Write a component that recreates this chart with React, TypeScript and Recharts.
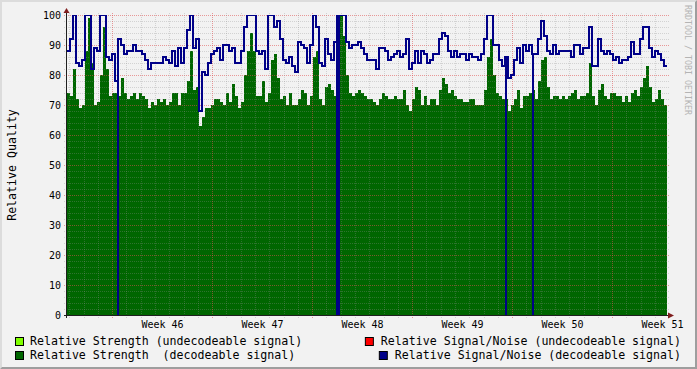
import React from 'react';
import { ComposedChart, Area, Line, XAxis, YAxis, ReferenceLine } from 'recharts';

// ---- data (one sample every 0.21 day over 6 weeks) ----
const DAYS_SPAN = 42;
const STEP_DAYS = 0.21;

const strengthDecodeable = [
  74, 73, 82, 72, 69, 70, 88, 99, 84, 70, 71, 80, 96, 82, 73, 74, 74, 73, 79, 74, 72, 73, 74, 72, 74, 73, 72, 69, 71, 70, 72, 71, 72, 70,
  71, 74, 74, 70, 74, 74, 78, 88, 75, 76, 63, 66, 69, 69, 70, 72, 72, 71, 70, 74, 71, 77, 73, 69, 71, 80, 88, 94, 88, 73, 73, 78, 71,
  74, 85, 87, 79, 72, 73, 70, 74, 70, 70, 72, 75, 74, 70, 73, 86, 88, 72, 70, 76, 77, 75, 73, 72, 100, 93, 80, 74, 73, 74, 75, 74, 73, 72,
  72, 71, 70, 72, 74, 73, 72, 72, 73, 72, 72, 75, 70, 68, 72, 76, 75, 70, 73, 70, 72, 72, 70, 75, 79, 77, 74, 75, 73, 72, 72, 71, 71,
  72, 72, 70, 70, 70, 75, 86, 92, 80, 74, 73, 72, 72, 68, 70, 72, 75, 69, 73, 73, 74, 75, 72, 78, 85, 86, 76, 72, 73, 73, 72, 73, 72,
  73, 74, 75, 72, 73, 73, 74, 84, 73, 70, 75, 77, 73, 72, 74, 74, 73, 73, 71, 73, 71, 74, 75, 73, 76, 79, 83, 76, 71, 72, 75, 72, 70,
];

const snrDecodeable = [
  88, 92, 100, 84, 83, 85, 100, 100, 82, 89, 88, 100, 100, 86, 85, 87, 78, 92, 90, 87, 88, 88, 90, 88, 88, 87, 85, 82, 84, 84, 84, 84, 86, 85,
  84, 88, 83, 89, 84, 89, 95, 100, 89, 92, 68, 81, 80, 84, 87, 88, 89, 85, 90, 90, 88, 89, 84, 84, 88, 96, 100, 100, 100, 88, 87, 88, 82,
  100, 100, 96, 98, 92, 85, 84, 86, 83, 81, 91, 90, 89, 84, 90, 100, 96, 84, 83, 92, 87, 85, 91, 100, 100, 100, 91, 89, 90, 90, 91, 89, 87, 85,
  85, 85, 82, 89, 89, 88, 85, 86, 87, 88, 86, 87, 92, 82, 84, 88, 84, 88, 87, 84, 85, 87, 87, 92, 94, 93, 88, 86, 88, 86, 87, 87, 85,
  87, 86, 86, 85, 87, 92, 100, 100, 90, 90, 85, 83, 86, 79, 80, 85, 89, 84, 90, 88, 90, 87, 87, 92, 98, 93, 88, 87, 90, 87, 88, 88, 88,
  88, 86, 90, 90, 87, 89, 89, 96, 83, 83, 92, 88, 87, 88, 87, 85, 86, 84, 85, 85, 86, 91, 87, 87, 92, 96, 96, 89, 86, 88, 87, 85, 83,
];

// short signal/noise dropouts to 0 (start day, duration in days)
const snrDropoutDays = [3.55, 18.9, 18.98, 30.7, 32.6];
const snrDropoutWidths = [0.05, 0.06, 0.06, 0.03, 0.03];

const weekLabels = ['Week 46', 'Week 47', 'Week 48', 'Week 49', 'Week 50', 'Week 51'];
const weekLabelDays = [6.69, 13.69, 20.69, 27.69, 34.69, 41.69];
const weekStartDays = [3.19, 10.19, 17.19, 24.19, 31.19, 38.19];
const dayGridDays = Array.from({ length: 42 }, (_, i) => +(0.19 + i).toFixed(2)).filter(
  (d) => !weekStartDays.some((w) => Math.abs(w - d) < 0.01)
);
const yTicks = Array.from({ length: 51 }, (_, i) => i * 2);

const legendLeft = [
  { label: 'Relative Strength (undecodeable signal)', color: '#80ff00' },
  { label: 'Relative Strength  (decodeable signal)', color: '#006600' },
];
const legendRight = [
  { label: 'Relative Signal/Noise (undecodeable signal)', color: '#ff0000' },
  { label: 'Relative Signal/Noise (decodeable signal)', color: '#000088' },
];

// ---- styling ----
const W = 697;
const H = 369;
const PLOT_LEFT = 67;
const PLOT_TOP = 15;
const PLOT_RIGHT = 667;
const PLOT_BOTTOM = 315;
const MONO = '"DejaVu Sans Mono", monospace';
const GREEN = '#006600';
const BLUE = '#000088';
const EXT_X = 0.2; // days beyond plot for grid ticks
const EXT_Y = 1; // units beyond plot

const minorStyle = { stroke: '#8f8f8f', strokeOpacity: 0.32, strokeDasharray: '1 1', shapeRendering: 'crispEdges' as const };
const majorStyle = { stroke: '#de4f4f', strokeOpacity: 0.55, strokeDasharray: '1 1', shapeRendering: 'crispEdges' as const };

const YTick = (p: any) => {
  const v = p.payload.value;
  if (v % 10 !== 0) return <g />;
  return (
    <text x={p.x - 6} y={p.y} dy={3.6} textAnchor="end" fontSize={10} fontFamily={MONO} fill="#000">
      {v}
    </text>
  );
};

const XTick = (p: any) => {
  const i = weekLabelDays.indexOf(p.payload.value);
  return (
    <text x={p.x} y={p.y + 13} textAnchor="middle" fontSize={10} fontFamily={MONO} fill="#000">
      {weekLabels[i]}
    </text>
  );
};

function buildRows() {
  const idx = (t: number) => Math.min(strengthDecodeable.length - 1, Math.floor(t / STEP_DAYS + 1e-9));
  const rows = strengthDecodeable.map((v, i) => ({
    t: +(i * STEP_DAYS).toFixed(3),
    strength: v,
    snr: snrDecodeable[i],
  }));
  snrDropoutDays.forEach((d, k) => {
    const end = d + snrDropoutWidths[k];
    rows.push({ t: d, strength: strengthDecodeable[idx(d)], snr: 0 });
    rows.push({ t: end, strength: strengthDecodeable[idx(end)], snr: snrDecodeable[idx(end)] });
  });
  const lastI = strengthDecodeable.length - 1;
  rows.push({ t: DAYS_SPAN, strength: strengthDecodeable[lastI], snr: snrDecodeable[lastI] });
  rows.sort((a, b) => a.t - b.t);
  return rows;
}

export default function App() {
  const data = buildRows();

  return (
    <div style={{ position: 'absolute', left: 0, top: 0, width: W, height: H, background: '#f2f2f2', overflow: 'hidden' }}>
      <ComposedChart
        width={W}
        height={H}
        data={data}
        margin={{ top: PLOT_TOP, right: W - PLOT_RIGHT, bottom: 0, left: 0 }}
      >
        <XAxis
          dataKey="t"
          type="number"
          domain={[0, DAYS_SPAN]}
          ticks={weekLabelDays}
          interval={0}
          tick={XTick}
          tickLine={false}
          axisLine={false}
          tickSize={0}
          tickMargin={0}
          height={H - PLOT_BOTTOM}
          allowDataOverflow
        />
        <YAxis
          type="number"
          domain={[0, 100]}
          ticks={yTicks}
          interval={0}
          tick={YTick}
          tickLine={false}
          axisLine={false}
          tickSize={0}
          tickMargin={0}
          width={PLOT_LEFT}
          allowDataOverflow
        />
        <Area
          type="stepAfter"
          dataKey="strength"
          stroke="none"
          fill={GREEN}
          fillOpacity={1}
          dot={false}
          activeDot={false}
          isAnimationActive={false}
        />
        {yTicks
          .filter((v) => v > 0)
          .map((v) => (
            <ReferenceLine
              key={'h' + v}
              segment={[
                { x: -EXT_X, y: v },
                { x: DAYS_SPAN + EXT_X, y: v },
              ]}
              ifOverflow="visible"
              {...(v % 10 === 0 ? majorStyle : minorStyle)}
            />
          ))}
        {dayGridDays.map((d) => (
          <ReferenceLine
            key={'d' + d}
            segment={[
              { x: d, y: -EXT_Y },
              { x: d, y: 100 + EXT_Y },
            ]}
            ifOverflow="visible"
            {...minorStyle}
          />
        ))}
        {weekStartDays.map((d) => (
          <ReferenceLine
            key={'w' + d}
            segment={[
              { x: d, y: -EXT_Y },
              { x: d, y: 100 + EXT_Y },
            ]}
            ifOverflow="visible"
            {...majorStyle}
          />
        ))}
        <Line
          type="stepAfter"
          dataKey="snr"
          stroke={BLUE}
          strokeWidth={1.2}
          shapeRendering="crispEdges"
          dot={false}
          activeDot={false}
          isAnimationActive={false}
        />
      </ComposedChart>
      <svg
        width={W}
        height={H}
        style={{ position: 'absolute', left: 0, top: 0, pointerEvents: 'none' }}
      >
        {/* frame shading */}
        <polygon points={`0,0 ${W},0 ${W - 2},2 2,2 2,${H - 2} 0,${H}`} fill="#dcdcdc" />
        <polygon points={`${W},0 ${W},${H} 0,${H} 2,${H - 2} ${W - 2},${H - 2} ${W - 2},2`} fill="#9e9e9e" />
        {/* axes */}
        <line x1={PLOT_LEFT - 3} x2={PLOT_RIGHT + 2} y1={PLOT_BOTTOM + 0.5} y2={PLOT_BOTTOM + 0.5} stroke="#1f1f1f" strokeWidth={1} />
        <line x1={PLOT_LEFT - 0.5} x2={PLOT_LEFT - 0.5} y1={PLOT_BOTTOM + 3} y2={PLOT_TOP - 3} stroke="#1f1f1f" strokeWidth={1} />
        <polygon
          points={`${PLOT_RIGHT + 1},${PLOT_BOTTOM - 2.5} ${PLOT_RIGHT + 1},${PLOT_BOTTOM + 3.5} ${PLOT_RIGHT + 7},${PLOT_BOTTOM + 0.5}`}
          fill="#801f1f"
        />
        <polygon
          points={`${PLOT_LEFT - 3.5},${PLOT_TOP - 2} ${PLOT_LEFT + 2.5},${PLOT_TOP - 2} ${PLOT_LEFT - 0.5},${PLOT_TOP - 7}`}
          fill="#801f1f"
        />
        {/* vertical axis title */}
        <text
          transform={`translate(16, 165) rotate(-90)`}
          textAnchor="middle"
          fontSize={11.6}
          fontFamily={MONO}
          fill="#000"
        >
          Relative Quality
        </text>
        {/* watermark */}
        <text transform={`translate(685, 5) rotate(90)`} fontSize={8.3} fontFamily={MONO} fill="#b4b4b4">
          RRDTOOL / TOBI OETIKER
        </text>
        {/* legend */}
        {legendLeft.map((it, i) => (
          <g key={'l' + i}>
            <rect x={15.5} y={337.5 + i * 14} width={8} height={8} fill={it.color} stroke="#000" strokeWidth={1} />
            <text x={30} y={345 + i * 14} fontSize={11.6} fontFamily={MONO} fill="#000" style={{ whiteSpace: 'pre' }}>
              {it.label}
            </text>
          </g>
        ))}
        {legendRight.map((it, i) => (
          <g key={'r' + i}>
            <rect
              x={681 - it.label.length * 6.98 - 15.5}
              y={337.5 + i * 14}
              width={8}
              height={8}
              fill={it.color}
              stroke="#000"
              strokeWidth={1}
            />
            <text x={681} y={345 + i * 14} textAnchor="end" fontSize={11.6} fontFamily={MONO} fill="#000" style={{ whiteSpace: 'pre' }}>
              {it.label}
            </text>
          </g>
        ))}
      </svg>
    </div>
  );
}
